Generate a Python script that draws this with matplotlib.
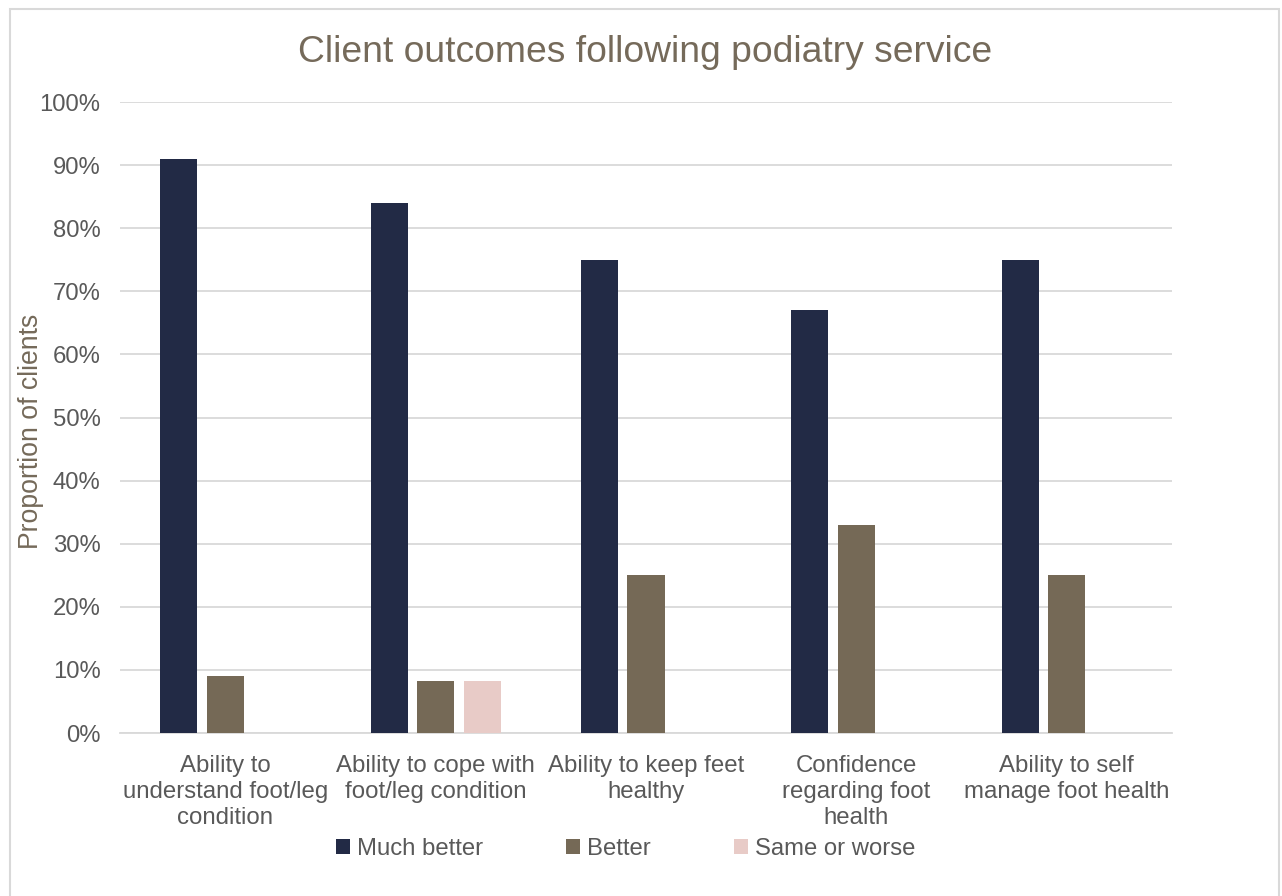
import matplotlib.pyplot as plt
import matplotlib.patches as mpatches
import numpy as np

plt.rcParams['font.family'] = ['Liberation Sans', 'DejaVu Sans']

categories = ['Ability to\nunderstand foot/leg\ncondition',
              'Ability to cope with\nfoot/leg condition',
              'Ability to keep feet\nhealthy',
              'Confidence\nregarding foot\nhealth',
              'Ability to self\nmanage foot health']
much_better = [91, 84, 75, 67, 75]
better = [9, 8.3, 25, 33, 25]
same_or_worse = [0, 8.3, 0, 0, 0]

series = [('Much better', much_better, '#222A45'),
          ('Better', better, '#756956'),
          ('Same or worse', same_or_worse, '#E8CBC7')]

fig = plt.figure(figsize=(12.82, 8.96), dpi=100)
ax = fig.add_axes([120 / 1282, 1 - 733 / 896, 1052 / 1282, 631 / 896])

x = np.arange(len(categories))
w = 0.176
step = 0.221
for i, (name, vals, col) in enumerate(series):
    ax.bar(x + (i - 1) * step, vals, width=w, color=col, label=name, zorder=3)

ax.set_xlim(-0.5, len(categories) - 0.5)
ax.set_ylim(0, 100)
ax.set_yticks(np.arange(0, 101, 10))
ax.set_yticklabels([f'{v}%' for v in range(0, 101, 10)])
ax.yaxis.grid(True, color='#D9D9D9', linewidth=1.3, zorder=0)
ax.set_xticks(x)
ax.set_xticklabels(categories, fontsize=17.3, color='#595959', linespacing=1.22)
ax.tick_params(axis='y', labelsize=17.2, labelcolor='#595959', length=0, pad=14)
ax.tick_params(axis='x', length=0, pad=16)
for s in ['top', 'right', 'left']:
    ax.spines[s].set_visible(False)
ax.spines['bottom'].set_color('#D9D9D9')
ax.spines['bottom'].set_linewidth(1.3)

fig.text(31 / 1282, 1 - 431 / 896, 'Proportion of clients', rotation=90,
         ha='center', va='center', fontsize=19.2, color='#756A5A')
fig.text(0.503, 1 - 52 / 896, 'Client outcomes following podiatry service',
         ha='center', va='center', fontsize=26.8, color='#756A5A')

fig.legend(loc='center', bbox_to_anchor=(0.488, 1 - 849 / 896), ncol=3, frameon=False,
           fontsize=17.2, labelcolor='#595959', handlelength=0.6, handleheight=0.6,
           handletextpad=0.3, columnspacing=3.45)

# chart area border
fig.patches.append(mpatches.Rectangle((10 / 1282, -0.01), 1269 / 1282, 1 - 9 / 896 + 0.01,
                                      transform=fig.transFigure, fill=False,
                                      edgecolor='#D9D9D9', linewidth=1.5))

fig.savefig('out.png', dpi=100)
